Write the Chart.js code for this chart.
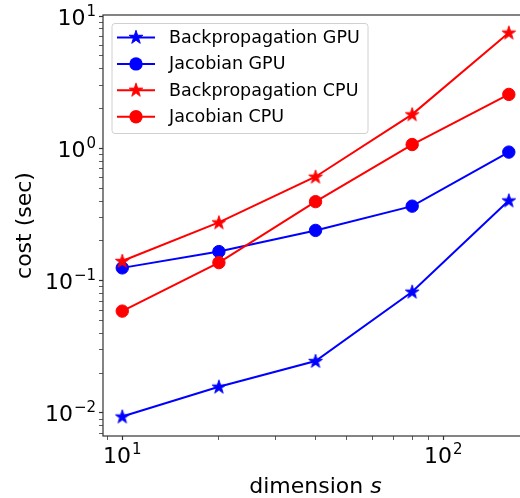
<!DOCTYPE html>
<html>
<head>
<meta charset="utf-8">
<script src="https://cdn.jsdelivr.net/npm/chart.js@4.4.0/dist/chart.umd.min.js"></script>
<style>
html, body { margin: 0; padding: 0; background: #fff; overflow: hidden; }
#wrap { width: 520px; height: 498px; overflow: hidden; }
canvas { display: block; }
</style>
</head>
<body>
<div id="wrap"><canvas id="costChart" width="540" height="498"></canvas></div>
<script>
// dimension s
const dims = [10, 20, 40, 80, 160];
// cost (sec)
const backpropGPU = [0.0094, 0.0158, 0.0247, 0.0826, 0.404];
const jacobianGPU = [0.125, 0.166, 0.240, 0.366, 0.938];
const backpropCPU = [0.141, 0.276, 0.611, 1.81, 7.5];
const jacobianCPU = [0.0589, 0.137, 0.396, 1.07, 2.56];
const seriesLabels = ['Backpropagation GPU', 'Jacobian GPU', 'Backpropagation CPU', 'Jacobian CPU'];
// tick labels = powers of ten
const xTickExps = [1, 2];
const yTickExps = [-2, -1, 0, 1];

const FONT = "'DejaVu Sans', sans-serif";
const BLUE = '#0000ff';
const RED = '#ff0000';

// filled 5-point star like matplotlib '*'
function starPath(g, cx, cy, r) {
    const inner = r * 0.382;
    g.beginPath();
    for (let i = 0; i < 10; i++) {
        const rad = i % 2 === 0 ? r : inner;
        const a = -Math.PI / 2 + i * Math.PI / 5;
        const px = cx + rad * Math.cos(a), py = cy + rad * Math.sin(a);
        if (i === 0) g.moveTo(px, py); else g.lineTo(px, py);
    }
    g.closePath();
}
function makeStar(color) {
    const c = document.createElement('canvas');
    c.width = 18; c.height = 18;
    const g = c.getContext('2d');
    starPath(g, 9, 9.5, 7.2);
    g.fillStyle = color; g.fill();
    g.lineWidth = 1; g.strokeStyle = color; g.stroke();
    return c;
}

const toPoints = arr => dims.map((d, i) => ({ x: d, y: arr[i] }));

function lineSet(label, arr, color, star, order) {
    return {
        label: label,
        data: toPoints(arr),
        borderColor: color,
        backgroundColor: color,
        borderWidth: 2,
        pointStyle: star ? makeStar(color) : 'circle',
        pointRadius: 6.2,
        pointBorderWidth: 1,
        pointBackgroundColor: color,
        pointBorderColor: color,
        order: order
    };
}

// log ticks 1..9 x 10^e inside the range
function buildLogTicks(scale) {
    const ticks = [];
    const lo = Math.floor(Math.log10(scale.min)), hi = Math.ceil(Math.log10(scale.max));
    for (let e = lo; e <= hi; e++) {
        for (let k = 1; k <= 9; k++) {
            const v = k * Math.pow(10, e);
            if (v >= scale.min && v <= scale.max) ticks.push({ value: v, major: k === 1 });
        }
    }
    scale.ticks = ticks;
}

function drawPow(g, exp, x0, baseline) {
    g.fillStyle = '#000';
    g.textBaseline = 'alphabetic';
    g.textAlign = 'left';
    g.font = '22px ' + FONT;
    const wb = g.measureText('10').width;
    g.fillText('10', x0, baseline);
    g.font = '15px ' + FONT;
    g.fillText(String(exp).replace('-', '\u2212'), x0 + wb + 1, baseline - 9);
}
function powWidth(g, exp) {
    g.font = '22px ' + FONT;
    const wb = g.measureText('10').width;
    g.font = '15px ' + FONT;
    return wb + 1 + g.measureText(String(exp).replace('-', '\u2212')).width;
}

const decorPlugin = {
    id: 'decor',
    afterDraw(chart) {
        const g = chart.ctx;
        const a = chart.chartArea;
        const xs = chart.scales.x, ys = chart.scales.y;
        g.save();
        // axes frame
        g.strokeStyle = '#333';
        g.lineWidth = 1.2;
        g.strokeRect(a.left, a.top, a.right - a.left, a.bottom - a.top);

        // tick labels
        yTickExps.forEach(e => {
            const py = ys.getPixelForValue(Math.pow(10, e));
            const w = powWidth(g, e);
            drawPow(g, e, 96 - w, py + 8.5);
        });
        xTickExps.forEach(e => {
            const px = xs.getPixelForValue(Math.pow(10, e));
            const w = powWidth(g, e);
            drawPow(g, e, px - w / 2, a.bottom + 27);
        });

        // x title with italic s
        g.fillStyle = '#000';
        g.textBaseline = 'alphabetic';
        g.textAlign = 'left';
        g.font = '22px ' + FONT;
        const t1 = 'dimension ';
        const w1 = g.measureText(t1).width;
        g.font = 'italic 22px ' + FONT;
        const w2 = g.measureText('s').width;
        const cx = (a.left + a.right) / 2;
        const x0 = cx - (w1 + w2) / 2;
        g.font = '22px ' + FONT;
        g.fillText(t1, x0, 493);
        g.font = 'italic 22px ' + FONT;
        g.fillText('s', x0 + w1, 493);

        // legend
        const bx = 112, by = 23.5, bw = 256, bh = 110;
        g.globalAlpha = 0.8;
        g.fillStyle = '#fff';
        g.beginPath();
        g.roundRect(bx, by, bw, bh, 3);
        g.fill();
        g.globalAlpha = 1;
        g.strokeStyle = '#d0d0d0';
        g.lineWidth = 1;
        g.stroke();
        chart.data.datasets.forEach((ds, i) => {
            const ry = 37.5 + i * 26.4;
            g.strokeStyle = ds.borderColor;
            g.lineWidth = 2;
            g.beginPath();
            g.moveTo(117, ry);
            g.lineTo(155, ry);
            g.stroke();
            if (ds.pointStyle === 'circle') {
                g.fillStyle = ds.borderColor;
                g.beginPath();
                g.arc(136, ry, 6.7, 0, Math.PI * 2);
                g.fill();
            } else {
                g.drawImage(ds.pointStyle, 136 - 9, ry - 9.5);
            }
            g.fillStyle = '#000';
            g.font = '17.5px ' + FONT;
            g.textBaseline = 'middle';
            g.fillText(ds.label, 169, ry + 1);
        });
        g.restore();
    }
};

const config = {
    type: 'line',
    data: {
        datasets: [
            lineSet(seriesLabels[0], backpropGPU, BLUE, true, 3),
            lineSet(seriesLabels[1], jacobianGPU, BLUE, false, 2),
            lineSet(seriesLabels[2], backpropCPU, RED, true, 1),
            lineSet(seriesLabels[3], jacobianCPU, RED, false, 0)
        ]
    },
    options: {
        responsive: false,
        animation: false,
        layout: { padding: { left: 0, right: 12, top: 15, bottom: 0 } },
        plugins: {
            legend: { display: false },
            tooltip: { enabled: false }
        },
        scales: {
            x: {
                type: 'logarithmic',
                min: 8.71,
                max: 183.6,
                afterBuildTicks: buildLogTicks,
                afterFit: s => { s.height = 62; },
                ticks: { autoSkip: false, maxRotation: 0, callback: () => '' },
                grid: { drawOnChartArea: false, drawTicks: true, tickLength: 4, tickColor: '#333', tickWidth: c => (c.tick && c.tick.major ? 1.2 : 0.8) },
                border: { display: false }
            },
            y: {
                type: 'logarithmic',
                min: 0.0067,
                max: 10.2,
                afterBuildTicks: buildLogTicks,
                afterFit: s => { s.width = 103; },
                ticks: { autoSkip: false, callback: () => '' },
                grid: { drawOnChartArea: false, drawTicks: true, tickLength: 4, tickColor: '#333', tickWidth: c => (c.tick && c.tick.major ? 1.2 : 0.8) },
                border: { display: false },
                title: {
                    display: true,
                    text: 'cost (sec)',
                    color: '#000',
                    font: { family: FONT, size: 22 },
                    padding: { top: 12, bottom: 0 }
                }
            }
        }
    },
    plugins: [decorPlugin]
};

window.addEventListener('load', () => {
    const ctx = document.getElementById('costChart').getContext('2d');
    new Chart(ctx, config);
});
</script>
</body>
</html>
